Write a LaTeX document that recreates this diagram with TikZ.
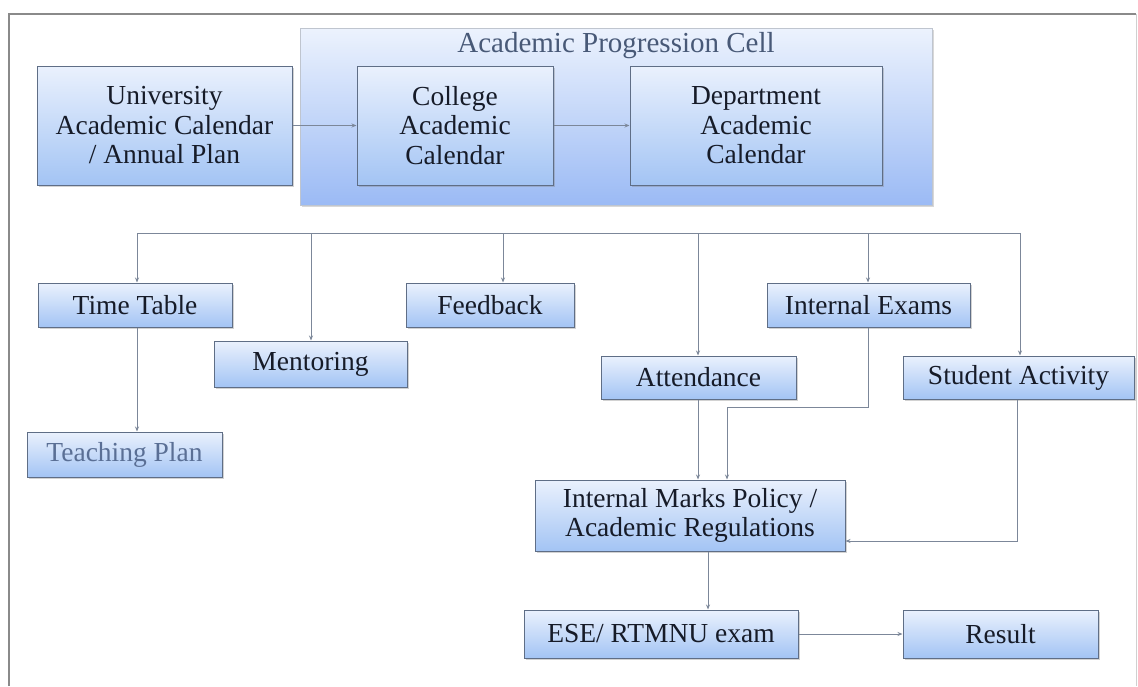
\documentclass[tikz,border=0pt]{standalone}
\usepackage{fontspec}
\setmainfont{Liberation Serif}
\usetikzlibrary{shadows,arrows.meta}
\definecolor{txt}{HTML}{161B28}
\definecolor{tptxt}{HTML}{5A6F95}
\definecolor{bord}{HTML}{5F6E86}
\definecolor{topc}{HTML}{EAF1FD}
\definecolor{botc}{HTML}{A3C4F4}
\definecolor{line}{HTML}{7C8799}
\definecolor{frame}{HTML}{8A8A8A}
\tikzset{
  box/.style={draw=bord, line width=1pt, top color=topc, bottom color=botc,
    text=txt, align=center, inner sep=0pt,
    font=\fontsize{27.5}{29.5}\selectfont,
    drop shadow={shadow xshift=2pt, shadow yshift=-2pt, opacity=0.35, fill=gray}},
  apcbox/.style={draw=bord!40, line width=0.8pt, top color=topc!90!white, bottom color=botc!95!blue,
    drop shadow={shadow xshift=2pt, shadow yshift=-2pt, opacity=0.3, fill=gray}},
  conn/.style={draw=line, line width=1pt},
  arr/.style={conn, -{Stealth[length=5pt,width=4pt]}},
}
\begin{document}
\begin{tikzpicture}[x=1pt,y=-1pt]
\useasboundingbox (0,0) rectangle (1138,686);
\fill[white] (0,0) rectangle (1138,686);
% frame
\draw[frame, line width=1.6pt] (9,686) -- (9,14) -- (1136,14);
\draw[frame!40, line width=0.8pt] (1136,14) -- (1136,686);
% Academic Progression Cell
\node[apcbox, minimum width=632pt, minimum height=177pt] (apc) at (616,116.5) {};
\node[text=tptxt!80!black, font=\fontsize{29}{31}\selectfont] (apct) at (616,46) {Academic Progression Cell};
% top boxes
\node[box, minimum width=255pt, minimum height=119pt] (univ) at (164.5,125.5) {University\\Academic Calendar\\/ Annual Plan};
\node[box, minimum width=196pt, minimum height=119pt] (coll) at (455,125.5) {College\\Academic\\Calendar};
\node[box, minimum width=252pt, minimum height=119pt] (dept) at (756,125.5) {Department\\Academic\\Calendar};
% second level
\node[box, minimum width=194pt, minimum height=44pt] (tt) at (135,305) {Time Table};
\node[box, minimum width=193pt, minimum height=46pt] (ment) at (310.5,364) {Mentoring};
\node[box, minimum width=168pt, minimum height=44pt] (fb) at (490,305) {Feedback};
\node[box, minimum width=203pt, minimum height=44pt] (ie) at (868.5,305) {Internal Exams};
\node[box, minimum width=195pt, minimum height=43pt] (att) at (698.5,377.5) {Attendance};
\node[box, minimum width=231pt, minimum height=43pt] (sa) at (1018.5,377.5) {Student Activity};
\node[box, minimum width=195pt, minimum height=45pt, text=tptxt] (tp) at (124.5,454.5) {Teaching Plan};
\node[box, minimum width=310pt, minimum height=71pt] (imp) at (690,515.5) {Internal Marks Policy /\\Academic Regulations};
\node[box, minimum width=274pt, minimum height=48pt] (ese) at (661,634) {ESE/ RTMNU exam};
\node[box, minimum width=195pt, minimum height=48pt] (res) at (1000.5,634) {Result};
% top arrows
\draw[arr] (univ.east) -- (coll.west);
\draw[arr] (coll.east) -- (dept.west);
% bus
\coordinate (b1) at (137,233);
\coordinate (b2) at (311,233);
\coordinate (b3) at (503,233);
\coordinate (b4) at (698,233);
\coordinate (b5) at (868,233);
\coordinate (b6) at (1020,233);
\draw[conn] (b1) -- (b6);
\draw[arr] (b1) -- (b1 |- tt.north);
\draw[arr] (b2) -- (b2 |- ment.north);
\draw[arr] (b3) -- (b3 |- fb.north);
\draw[arr] (b4) -- (b4 |- att.north);
\draw[arr] (b5) -- (b5 |- ie.north);
\draw[arr] (b6) -- (b6 |- sa.north);
% lower connectors
\draw[arr] (b1 |- tt.south) -- (b1 |- tp.north);
\draw[arr] (b4 |- att.south) -- (b4 |- imp.north);
\coordinate (ie1) at (868,407);
\coordinate (ie2) at (727,407);
\draw[arr] (ie.south -| ie1) -- (ie1) -- (ie2) -- (ie2 |- imp.north);
\coordinate (sa1) at (1017,541);
\draw[arr] (sa.south -| sa1) -- (sa1) -- (imp.east |- sa1);
\coordinate (im1) at (708,551);
\draw[arr] (imp.south -| im1) -- (im1 |- ese.north);
\draw[arr] (ese.east) -- (res.west);
\end{tikzpicture}
\end{document}
